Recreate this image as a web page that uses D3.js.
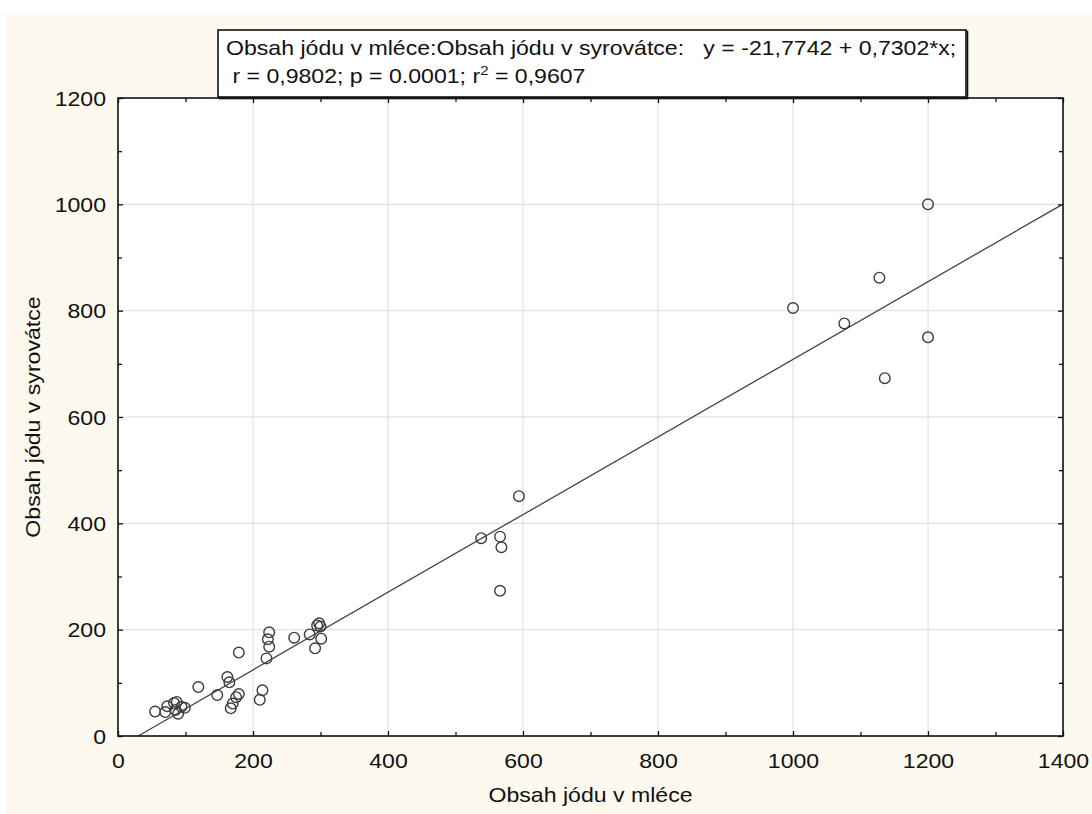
<!DOCTYPE html>
<html>
<head>
<meta charset="utf-8">
<script src="https://cdn.jsdelivr.net/npm/d3@7"></script>
<style>
  html, body { margin: 0; padding: 0; background: #ffffff; }
  svg { display: block; font-family: "Liberation Sans", Arial, sans-serif; }
</style>
</head>
<body>
<svg id="chart" width="1092" height="814"></svg>
<script>
// Iodine content: milk (x) vs. whey (y), one pair per sample
const iodineMilk = [55, 70, 73, 83, 85, 87, 89, 94, 99, 119, 147, 162, 165, 179, 167, 170, 175, 179,
  210, 214, 224, 222, 224, 220, 261, 284, 295, 298, 300, 301, 292,
  538, 566, 568, 566, 594, 1000, 1076, 1128, 1136, 1200, 1200];
const iodineWhey = [46, 45, 56, 62, 49, 64, 42, 55, 53, 92, 77, 111, 101, 157, 52, 61, 73, 79,
  68, 86, 195, 182, 168, 146, 185, 191, 208, 212, 206, 183, 165,
  372, 375, 355, 273, 451, 805, 776, 862, 673, 1000, 750];

const xTicks = [0, 200, 400, 600, 800, 1000, 1200, 1400];
const yTicks = [0, 200, 400, 600, 800, 1000, 1200];
const xMinorTicks = [100, 300, 500, 700, 900, 1100, 1300];
const yMinorTicks = [100, 300, 500, 700, 900, 1100];

const xTitle = "Obsah jódu v mléce";
const yTitle = "Obsah jódu v syrovátce";

// Linear fit reported in the header box
const fitIntercept = -21.7742;
const fitSlope = 0.7302;
const statLine1 = "Obsah jódu v mléce:Obsah jódu v syrovátce:   y = -21,7742 + 0,7302*x;";
const statLine2a = " r = 0,9802; p = 0.0001; r";
const statLine2sup = "2";
const statLine2b = " = 0,9607";

// ---------------------------------------------------------------
const svg = d3.select("#chart");
const W = 1092, H = 814;
const plot = { left: 118, right: 1063, top: 98, bottom: 736 };
const FONT = 20, STRETCH = 1.155;   // wide sans lettering
const ink = "#111111";
const markColor = "#3c3c3c";

const x = d3.scaleLinear().domain([0, 1400]).range([plot.left, plot.right]);
const y = d3.scaleLinear().domain([0, 1200]).range([plot.bottom, plot.top]);

// page + panel backgrounds
svg.append("rect").attr("x", 0).attr("y", 0).attr("width", W).attr("height", H).attr("fill", "#ffffff");
svg.append("rect").attr("x", 6).attr("y", 13).attr("width", W - 6).attr("height", H - 13).attr("fill", "#fdf9ee");
svg.append("rect")
  .attr("x", plot.left).attr("y", plot.top)
  .attr("width", plot.right - plot.left).attr("height", plot.bottom - plot.top)
  .attr("fill", "#ffffff");

// grid
const grid = svg.append("g").attr("stroke", "#dcdcdc").attr("stroke-width", 1);
grid.selectAll("line.gx").data(xTicks.slice(1, -1)).join("line")
  .attr("x1", d => x(d)).attr("x2", d => x(d))
  .attr("y1", plot.top).attr("y2", plot.bottom);
grid.selectAll("line.gy").data(yTicks.slice(1, -1)).join("line")
  .attr("y1", d => y(d)).attr("y2", d => y(d))
  .attr("x1", plot.left).attr("x2", plot.right);

// inward tick marks on all four sides (major + minor)
function tickAxis(axisFn, scale, values, size, tx, ty) {
  const g = svg.append("g").attr("transform", `translate(${tx},${ty})`)
    .call(axisFn(scale).tickValues(values).tickSize(-size).tickFormat(""));
  g.select(".domain").remove();
  g.selectAll(".tick line").attr("stroke", ink).attr("stroke-width", 1.3);
  return g;
}
tickAxis(d3.axisBottom, x, xTicks, 5, 0, plot.bottom);
tickAxis(d3.axisBottom, x, xMinorTicks, 4, 0, plot.bottom);
tickAxis(d3.axisTop, x, xTicks, 5, 0, plot.top);
tickAxis(d3.axisTop, x, xMinorTicks, 4, 0, plot.top);
tickAxis(d3.axisLeft, y, yTicks, 5, plot.left, 0);
tickAxis(d3.axisLeft, y, yMinorTicks, 4, plot.left, 0);
tickAxis(d3.axisRight, y, yTicks, 5, plot.right, 0);
tickAxis(d3.axisRight, y, yMinorTicks, 4, plot.right, 0);

// tick labels
const xLab = svg.append("g").attr("transform", `translate(0,${plot.bottom})`)
  .call(d3.axisBottom(x).tickValues(xTicks).tickSize(0).tickFormat(d3.format("d")));
xLab.select(".domain").remove();
xLab.selectAll(".tick text")
  .attr("x", 0).attr("y", 0).attr("dy", null)
  .attr("transform", `translate(0,32) scale(${STRETCH},1)`)
  .attr("font-size", FONT).attr("font-family", "Liberation Sans, Arial, sans-serif").attr("fill", ink);

const yLab = svg.append("g").attr("transform", `translate(${plot.left},0)`)
  .call(d3.axisLeft(y).tickValues(yTicks).tickSize(0).tickFormat(d3.format("d")));
yLab.select(".domain").remove();
yLab.selectAll(".tick text")
  .attr("x", 0).attr("dy", "0.36em")
  .attr("transform", `translate(-12,0) scale(${STRETCH},1)`)
  .attr("font-size", FONT).attr("font-family", "Liberation Sans, Arial, sans-serif").attr("fill", ink);

// regression line, from where it crosses y = 0 to the right edge
const fit = v => fitIntercept + fitSlope * v;
const xStart = -fitIntercept / fitSlope;
const fitPts = [xStart, 1400];
svg.append("path")
  .datum(fitPts)
  .attr("fill", "none").attr("stroke", "#444444").attr("stroke-width", 1.3)
  .attr("d", d3.line().x(d => x(d)).y(d => y(fit(d))));

// sample markers
svg.append("g").selectAll("circle")
  .data(iodineMilk.map((m, i) => [m, iodineWhey[i]]))
  .join("circle")
  .attr("cx", d => x(d[0])).attr("cy", d => y(d[1]))
  .attr("r", 5.3)
  .attr("fill", "none").attr("stroke", markColor).attr("stroke-width", 1.4);

// plot frame
svg.append("rect")
  .attr("x", plot.left).attr("y", plot.top)
  .attr("width", plot.right - plot.left).attr("height", plot.bottom - plot.top)
  .attr("fill", "none").attr("stroke", ink).attr("stroke-width", 1.6);

// axis titles
svg.append("text")
  .attr("transform", `translate(${(plot.left + plot.right) / 2},802) scale(${STRETCH},1)`)
  .attr("text-anchor", "middle").attr("font-size", FONT).attr("fill", ink)
  .text(xTitle);
svg.append("text")
  .attr("transform", `translate(40,${(plot.top + plot.bottom) / 2}) rotate(-90) scale(${STRETCH},1)`)
  .attr("text-anchor", "middle").attr("font-size", FONT).attr("fill", ink)
  .text(yTitle);

// statistics box
const box = { x: 218, y: 30, w: 748, h: 67 };
svg.append("rect")
  .attr("x", box.x + 1.5).attr("y", box.y + 1.5).attr("width", box.w).attr("height", box.h)
  .attr("fill", "none").attr("stroke", ink).attr("stroke-width", 1.6);
svg.append("rect")
  .attr("x", box.x).attr("y", box.y).attr("width", box.w).attr("height", box.h)
  .attr("fill", "#ffffff").attr("stroke", ink).attr("stroke-width", 1.6);

svg.append("text")
  .attr("transform", `translate(226,55) scale(${STRETCH},1)`)
  .attr("font-size", FONT).attr("fill", ink).style("white-space", "pre")
  .text(statLine1);
const t2 = svg.append("text")
  .attr("transform", `translate(226,83) scale(${STRETCH},1)`)
  .attr("font-size", FONT).attr("fill", ink).style("white-space", "pre");
t2.append("tspan").text(statLine2a);
t2.append("tspan").attr("dy", -8).attr("font-size", 13).text(statLine2sup);
t2.append("tspan").attr("dy", 8).text(statLine2b);
</script>
</body>
</html>
